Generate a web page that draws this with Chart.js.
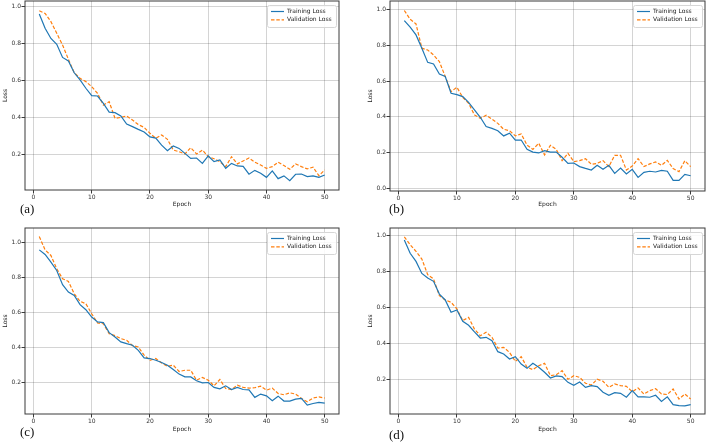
<!DOCTYPE html>
<html>
<head>
<meta charset="utf-8">
<script src="https://cdn.jsdelivr.net/npm/chart.js@4/dist/chart.umd.min.js"></script>
<style>
  body { margin: 0; background: #fff; }
  #wrap { position: relative; width: 708px; height: 447px; overflow: hidden; }
  #wrap canvas { position: absolute; }
  .tag { position: absolute; font-family: "Liberation Serif", "DejaVu Serif", serif; font-size: 13px; line-height: 13px; color: #111; }
</style>
</head>
<body>
<div id="wrap">
  <canvas id="ca" width="354" height="224" style="left:0;top:0"></canvas>
  <canvas id="cb" width="354" height="224" style="left:354px;top:0"></canvas>
  <canvas id="cc" width="354" height="223" style="left:0;top:224px"></canvas>
  <canvas id="cd" width="354" height="223" style="left:354px;top:224px"></canvas>
  <div class="tag" style="left:20px;top:202px">(a)</div>
  <div class="tag" style="left:389px;top:202px">(b)</div>
  <div class="tag" style="left:20px;top:425px">(c)</div>
  <div class="tag" style="left:389px;top:428px">(d)</div>
</div>
<script>
const epochs = [1, 2, 3, 4, 5, 6, 7, 8, 9, 10, 11, 12, 13, 14, 15, 16, 17, 18, 19, 20,
  21, 22, 23, 24, 25, 26, 27, 28, 29, 30, 31, 32, 33, 34, 35, 36, 37, 38, 39, 40,
  41, 42, 43, 44, 45, 46, 47, 48, 49, 50];

const trainA = [0.960, 0.883, 0.828, 0.796, 0.725, 0.706, 0.642, 0.603, 0.558, 0.518,
  0.516, 0.476, 0.429, 0.426, 0.408, 0.364, 0.350, 0.335, 0.321, 0.294,
  0.288, 0.250, 0.220, 0.245, 0.232, 0.205, 0.178, 0.180, 0.151, 0.191,
  0.160, 0.169, 0.124, 0.151, 0.137, 0.135, 0.092, 0.113, 0.097, 0.075,
  0.110, 0.068, 0.083, 0.057, 0.092, 0.093, 0.079, 0.083, 0.075, 0.088];
const valA = [0.978, 0.964, 0.919, 0.856, 0.792, 0.715, 0.642, 0.612, 0.594, 0.567,
  0.530, 0.467, 0.485, 0.395, 0.400, 0.408, 0.386, 0.361, 0.346, 0.314,
  0.287, 0.305, 0.281, 0.223, 0.214, 0.202, 0.236, 0.202, 0.223, 0.187,
  0.176, 0.160, 0.133, 0.187, 0.148, 0.164, 0.180, 0.157, 0.142, 0.124,
  0.133, 0.157, 0.139, 0.119, 0.148, 0.133, 0.121, 0.130, 0.084, 0.115];

const trainB = [0.937, 0.900, 0.857, 0.783, 0.704, 0.695, 0.639, 0.625, 0.532, 0.524,
  0.513, 0.481, 0.439, 0.398, 0.346, 0.336, 0.323, 0.294, 0.309, 0.271,
  0.271, 0.219, 0.204, 0.199, 0.212, 0.204, 0.204, 0.175, 0.141, 0.143,
  0.123, 0.113, 0.104, 0.130, 0.108, 0.130, 0.085, 0.115, 0.082, 0.108,
  0.063, 0.091, 0.097, 0.093, 0.102, 0.097, 0.046, 0.046, 0.080, 0.072];
const valB = [0.993, 0.944, 0.918, 0.783, 0.773, 0.745, 0.708, 0.625, 0.541, 0.565,
  0.509, 0.476, 0.411, 0.392, 0.409, 0.387, 0.364, 0.331, 0.323, 0.294,
  0.305, 0.243, 0.219, 0.253, 0.188, 0.242, 0.219, 0.156, 0.197, 0.151,
  0.156, 0.167, 0.136, 0.141, 0.156, 0.123, 0.186, 0.186, 0.104, 0.126,
  0.167, 0.123, 0.138, 0.149, 0.130, 0.158, 0.112, 0.095, 0.156, 0.123];

const trainC = [0.956, 0.930, 0.886, 0.838, 0.757, 0.715, 0.696, 0.643, 0.614, 0.572,
  0.544, 0.540, 0.483, 0.458, 0.430, 0.420, 0.411, 0.382, 0.339, 0.335,
  0.325, 0.312, 0.297, 0.272, 0.246, 0.230, 0.230, 0.208, 0.196, 0.198,
  0.170, 0.162, 0.179, 0.158, 0.170, 0.158, 0.156, 0.113, 0.132, 0.122,
  0.094, 0.120, 0.092, 0.092, 0.103, 0.107, 0.069, 0.078, 0.084, 0.080];
const valC = [1.032, 0.956, 0.924, 0.848, 0.791, 0.776, 0.705, 0.662, 0.648, 0.591,
  0.538, 0.534, 0.477, 0.466, 0.449, 0.439, 0.409, 0.401, 0.354, 0.325,
  0.335, 0.310, 0.291, 0.297, 0.261, 0.268, 0.268, 0.211, 0.227, 0.211,
  0.179, 0.215, 0.164, 0.158, 0.183, 0.170, 0.166, 0.168, 0.177, 0.154,
  0.166, 0.135, 0.128, 0.139, 0.132, 0.107, 0.088, 0.109, 0.116, 0.109];

const trainD = [0.976, 0.902, 0.857, 0.790, 0.764, 0.746, 0.675, 0.642, 0.573, 0.586,
  0.523, 0.501, 0.464, 0.430, 0.434, 0.415, 0.354, 0.341, 0.313, 0.326,
  0.285, 0.261, 0.289, 0.267, 0.239, 0.207, 0.219, 0.215, 0.183, 0.167,
  0.185, 0.155, 0.165, 0.159, 0.128, 0.111, 0.126, 0.122, 0.100, 0.137,
  0.102, 0.102, 0.100, 0.111, 0.077, 0.102, 0.059, 0.053, 0.052, 0.059];
const valD = [0.994, 0.950, 0.913, 0.870, 0.783, 0.759, 0.666, 0.642, 0.629, 0.592,
  0.527, 0.545, 0.480, 0.443, 0.462, 0.434, 0.374, 0.378, 0.350, 0.300,
  0.326, 0.267, 0.254, 0.276, 0.289, 0.220, 0.226, 0.248, 0.200, 0.220,
  0.211, 0.178, 0.168, 0.200, 0.189, 0.155, 0.174, 0.165, 0.161, 0.131,
  0.152, 0.118, 0.137, 0.148, 0.118, 0.115, 0.146, 0.090, 0.118, 0.090];

const seriesLabels = ["Training Loss", "Validation Loss"];
const xTicks = [0, 10, 20, 30, 40, 50];
const yTicksA = [0.2, 0.4, 0.6, 0.8, 1.0];
const yTicksB = [0.0, 0.2, 0.4, 0.6, 0.8, 1.0];
const yTicksC = [0.2, 0.4, 0.6, 0.8, 1.0];
const yTicksD = [0.2, 0.4, 0.6, 0.8, 1.0];

const FONT = "'DejaVu Sans', sans-serif";
const BLUE = "#1f77b4";
const ORANGE = "#ff7f0e";

// frame around the plot area + matplotlib style legend in the upper right
const frameLegend = {
  id: "frameLegend",
  afterDatasetsDraw(chart) {
    const { ctx, chartArea: a } = chart;
    ctx.save();
    ctx.strokeStyle = "#3a3a3a";
    ctx.lineWidth = 1;
    ctx.strokeRect(a.left, a.top, a.right - a.left, a.bottom - a.top);

    const w = 69, h = 22;
    const x = a.right - 3 - w, y = a.top + 4;
    ctx.beginPath();
    ctx.roundRect(x + 0.5, y + 0.5, w, h, 2);
    ctx.fillStyle = "rgba(255,255,255,0.85)";
    ctx.fill();
    ctx.strokeStyle = "#d6d6d6";
    ctx.stroke();

    ctx.font = "6px " + FONT;
    ctx.textBaseline = "middle";
    chart.data.datasets.forEach((ds, i) => {
      const ly = y + 6.5 + i * 8.3;
      ctx.beginPath();
      ctx.setLineDash(ds.borderDash || []);
      ctx.strokeStyle = ds.borderColor;
      ctx.lineWidth = 1.2;
      ctx.moveTo(x + 4, ly);
      ctx.lineTo(x + 17, ly);
      ctx.stroke();
      ctx.setLineDash([]);
      ctx.fillStyle = "#222";
      ctx.fillText(ds.label, x + 20, ly);
    });
    ctx.restore();
  }
};

const panels = [
  { id: "ca", train: trainA, val: valA, yTicks: yTicksA, yMin: 0.0065, yMax: 1.031, yw: 25, xh: 34, pad: { top: 1, right: 15 }, lossPad: 1.4, epochPad: 16.1 },
  { id: "cb", train: trainB, val: valB, yTicks: yTicksB, yMin: -0.013, yMax: 1.046, yw: 36, xh: 33, pad: { top: 1, right: 3 }, lossPad: 13, epochPad: 16.1 },
  { id: "cc", train: trainC, val: valC, yTicks: yTicksC, yMin: 0.018, yMax: 1.081, yw: 25, xh: 33, pad: { top: 4, right: 15 }, lossPad: 1.4, epochPad: 13.7 },
  { id: "cd", train: trainD, val: valD, yTicks: yTicksD, yMin: 0.0067, yMax: 1.043, yw: 36, xh: 33, pad: { top: 4, right: 3 }, lossPad: 13, epochPad: 13.7 }
];

const toPoints = arr => epochs.map((e, i) => ({ x: e, y: arr[i] }));

panels.forEach(p => {
  new Chart(document.getElementById(p.id), {
    type: "line",
    data: {
      datasets: [
        { label: seriesLabels[0], data: toPoints(p.train), borderColor: BLUE, borderWidth: 1.2, pointRadius: 0, tension: 0, fill: false },
        { label: seriesLabels[1], data: toPoints(p.val), borderColor: ORANGE, borderWidth: 1.2, borderDash: [3.5, 1.8], pointRadius: 0, tension: 0, fill: false }
      ]
    },
    options: {
      responsive: false,
      animation: false,
      events: [],
      layout: { padding: { left: 0, bottom: 0, top: p.pad.top, right: p.pad.right } },
      plugins: { legend: { display: false }, tooltip: { enabled: false } },
      scales: {
        x: {
          type: "linear",
          min: -1.45,
          max: 52.45,
          afterBuildTicks: axis => { axis.ticks = xTicks.map(v => ({ value: v })); },
          afterFit: axis => { axis.height = p.xh; axis.paddingLeft = 0; axis.paddingRight = 0; },
          grid: { color: "rgba(0,0,0,0.17)", lineWidth: 1, tickColor: "#3a3a3a", tickLength: 3.5 },
          border: { display: false },
          ticks: { font: { size: 6, family: FONT }, color: "#333", padding: 0.5, maxRotation: 0 },
          title: { display: true, text: "Epoch", font: { size: 6, family: FONT }, color: "#222", padding: { top: 0, bottom: p.epochPad } }
        },
        y: {
          min: p.yMin,
          max: p.yMax,
          afterBuildTicks: axis => { axis.ticks = p.yTicks.map(v => ({ value: v })); },
          afterFit: axis => { axis.width = p.yw; axis.paddingTop = 0; axis.paddingBottom = 0; },
          grid: { color: "rgba(0,0,0,0.17)", lineWidth: 1, tickColor: "#3a3a3a", tickLength: 3.5 },
          border: { display: false },
          ticks: { font: { size: 6, family: FONT }, color: "#333", padding: 0.5, callback: v => v.toFixed(1) },
          title: { display: true, text: "Loss", font: { size: 6, family: FONT }, color: "#222", padding: { top: p.lossPad, bottom: 0 } }
        }
      }
    },
    plugins: [frameLegend]
  });
});
</script>
</body>
</html>
